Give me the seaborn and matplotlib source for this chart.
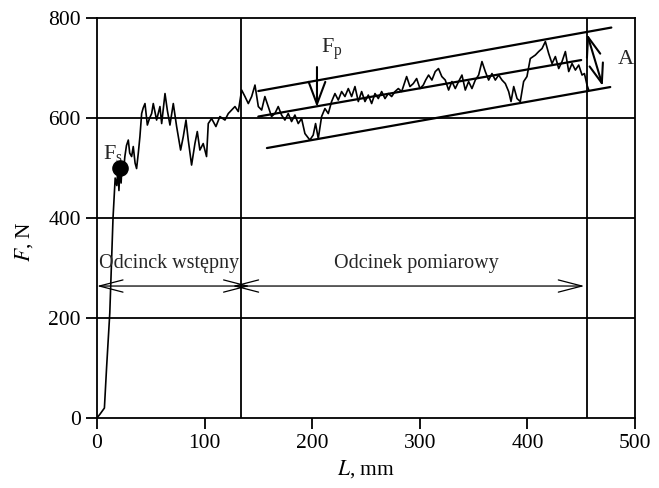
import seaborn as sns
import matplotlib.pyplot as plt

length_mm = [0, 3, 7, 9, 12, 15, 17, 18.5, 19.5, 20.5, 21.5, 22.5, 23.5, 25, 26, 27.5, 29.2, 30.5, 32.3, 33.8,
             35.5, 36.9, 38.5, 40, 41.6, 43, 44.7, 46.9, 49, 50.9, 52.4, 55.5, 58.6, 60.2, 63.3, 65.5, 67.9, 71, 74.1, 77.8,
             80.3, 82.8, 84.9, 88, 91.1, 93.3, 95.7, 98.8, 101.9, 103.5, 106.6, 110.6, 114.3, 119, 122.1, 125.2, 128.3, 131.4, 134.5, 137.6,
             140.7, 143.8, 146.9, 150, 153.1, 156.1, 159.2, 162.3, 165.4, 168.5, 171.6, 174.7, 177.8, 180.9, 184, 187.1, 190.2, 193.3, 197.9, 201,
             203.2, 205.7, 208.8, 211.9, 215, 218.1, 221.2, 224.3, 227.4, 230.5, 233.6, 236.7, 239.8, 242.9, 246, 249.1, 252.2, 255.3, 258.4, 261.5,
             264.6, 267.7, 270.8, 273.9, 277, 280.1, 283.2, 287.8, 290.9, 294, 297.1, 300.2, 303.3, 305.5, 308.2, 311.3, 314.4, 317.4, 320.5, 323.7,
             326.8, 329.9, 333, 336.1, 339.2, 342.3, 345.4, 348.5, 351.6, 354.7, 357.8, 360.9, 364, 367.1, 370.2, 373.3, 376.4, 379.5, 382.6, 384.8,
             387.3, 390.4, 393.4, 396.5, 399.6, 402.7, 407.4, 410.5, 413.6, 416.7, 419.8, 422.9, 426, 429.1, 432.2, 435.3, 438.4, 441.5, 444.6, 447.7,
             450.8, 453, 455.4, 457]
force_n = [0, 8, 20, 100, 210, 400, 480, 465, 500, 455, 505, 470, 510, 500, 523, 545, 556, 530, 523, 543,
           510, 499, 530, 563, 609, 620, 629, 586, 600, 609, 629, 596, 623, 589, 649, 615, 586, 629, 583, 536,
           563, 596, 556, 506, 549, 573, 536, 549, 523, 589, 599, 583, 603, 596, 609, 616, 623, 613, 656, 643,
           629, 643, 666, 623, 616, 643, 623, 603, 609, 623, 606, 596, 609, 593, 606, 589, 599, 569, 556, 566,
           589, 559, 603, 619, 609, 633, 649, 636, 653, 643, 659, 643, 663, 633, 653, 633, 646, 629, 649, 639,
           653, 639, 649, 643, 653, 659, 653, 683, 663, 669, 679, 659, 666, 676, 686, 676, 693, 699, 683, 676,
           656, 673, 659, 673, 686, 656, 673, 659, 676, 686, 713, 693, 676, 689, 676, 686, 676, 669, 653, 633,
           663, 639, 633, 673, 683, 719, 726, 733, 739, 753, 729, 709, 723, 699, 713, 733, 693, 709, 696, 706,
           686, 689, 666, 656]

# band lines (start/end) around the measuring section
upper_l, upper_f = [150, 478], [654, 781]
middle_l, middle_f = [150, 450], [603, 716]
lower_l, lower_f = [158, 477], [540, 662]

section_bounds = [134, 455]
grid_levels = [200, 400, 600]
fs_point = (21.5, 500)

sns.set_style("ticks")
plt.rcParams["font.family"] = ["Liberation Serif", "DejaVu Serif"]
plt.rcParams["mathtext.fontset"] = "stix"

fig = plt.figure(figsize=(6.59, 4.88), dpi=100)
ax = fig.add_axes([0.147, 0.1434, 0.8166, 0.963 - 0.1434])

sns.lineplot(x=length_mm, y=force_n, color="black", lw=1.2, ax=ax)

for lx, fy in [(upper_l, upper_f), (middle_l, middle_f), (lower_l, lower_f)]:
    sns.lineplot(x=lx, y=fy, color="black", lw=1.6, ax=ax)

for lvl in grid_levels:
    ax.axhline(lvl, color="black", lw=1.3)
for b in section_bounds:
    ax.axvline(b, color="black", lw=1.3)

ax.scatter([fs_point[0]], [fs_point[1]], s=120, color="black", zorder=5)
ax.text(6, 518, r"F$_\mathregular{s}$", fontsize=16)

# Fp arrow
ax.annotate("", xy=(204.5, 622), xytext=(204.5, 702),
            arrowprops=dict(arrowstyle="->,head_length=0.8,head_width=0.3",
                            color="black", lw=1.5, mutation_scale=20, shrinkA=0, shrinkB=0))
ax.text(208, 730, r"F$_\mathregular{p}$", fontsize=16)

# amplitude A
ax.annotate("", xy=(455.5, 768), xytext=(470, 664),
            arrowprops=dict(arrowstyle="<->,head_length=0.7,head_width=0.25",
                            color="black", lw=1.5, mutation_scale=20, shrinkA=0, shrinkB=0))
ax.text(484, 708, "A", fontsize=16)

# section arrows
arrow_y = 264
ax.annotate("", xy=(0, arrow_y), xytext=(142, arrow_y),
            arrowprops=dict(arrowstyle="<->,head_length=0.85,head_width=0.22",
                            color="black", lw=0.9, mutation_scale=20, shrinkA=0, shrinkB=0))
ax.annotate("", xy=(126, arrow_y), xytext=(453, arrow_y),
            arrowprops=dict(arrowstyle="<->,head_length=0.85,head_width=0.22",
                            color="black", lw=0.9, mutation_scale=20, shrinkA=0, shrinkB=0))
ax.text(67, 290, "Odcinck wstępny", fontsize=14.5, ha="center", va="bottom")
ax.text(297, 290, "Odcinek pomiarowy", fontsize=14.5, ha="center", va="bottom")

ax.set_xlim(0, 500)
ax.set_ylim(0, 800)
ax.set_xticks([0, 100, 200, 300, 400, 500])
ax.set_yticks([0, 200, 400, 600, 800])
ax.tick_params(direction="out", length=8, width=1.3, labelsize=15.5, color="black", labelcolor="black")
for s in ax.spines.values():
    s.set_visible(True)
    s.set_color("black")
    s.set_linewidth(1.3)

ax.set_xlabel("$L$, mm", fontsize=15.5, color="black")
ax.set_ylabel("$F$, N", fontsize=15.5, color="black")
ax.yaxis.set_label_coords(-0.115, 0.44)
ax.xaxis.set_label_coords(0.5, -0.1)

fig.savefig("out.png", dpi=100)
